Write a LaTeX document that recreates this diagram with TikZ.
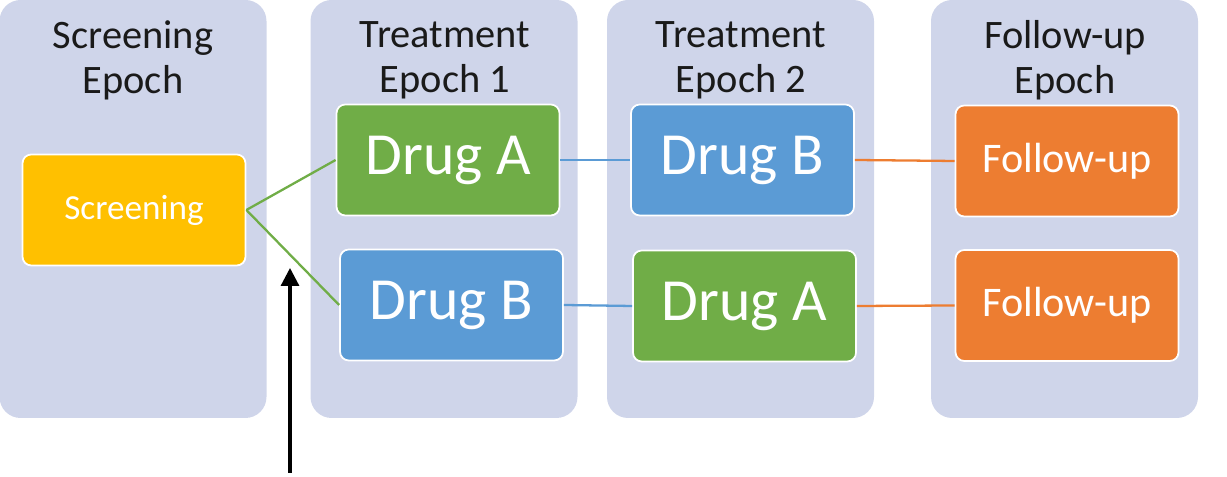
\documentclass[tikz,border=0pt]{standalone}
\usepackage{fontspec}
\setmainfont{Carlito}
\usetikzlibrary{arrows.meta}

\definecolor{epochbg}{HTML}{CFD5EA}
\definecolor{scrfill}{HTML}{FFC000}
\definecolor{drugAfill}{HTML}{70AD47}
\definecolor{drugBfill}{HTML}{5B9BD5}
\definecolor{fupfill}{HTML}{ED7D31}
\definecolor{ttltext}{HTML}{1A1A1A}

\begin{document}
\begin{tikzpicture}[
  epoch/.style={fill=epochbg, rounded corners=12pt, minimum width=5.34cm,
                minimum height=8.36cm, inner sep=0pt},
  ttl/.style={font=\fontsize{23}{25.6}\selectfont, align=center, text=ttltext},
  arm/.style={draw=white, line width=1pt, rounded corners=5pt, minimum width=4.46cm,
              minimum height=2.22cm, text=white, fill=#1},
  link/.style={line width=1.3pt, draw=#1},
  arr/.style={-{Triangle[length=0.36cm, width=0.36cm]}, line width=1.8pt},
]
\useasboundingbox (0,0) rectangle (24.54,9.54);

%% Epoch panels
\node[epoch] (epScr) at (2.66,5.36)  {};
\node[epoch] (epT1)  at (8.88,5.36)  {};
\node[epoch] (epT2)  at (14.81,5.36) {};
\node[epoch] (epFup) at (21.29,5.36) {};

%% Epoch titles
\node[ttl] (tScr) at (2.66,8.34)  {Screening\\Epoch};
\node[ttl] (tT1)  at (8.90,8.34)  {Treatment\\Epoch 1};
\node[ttl] (tT2)  at (14.82,8.34) {Treatment\\Epoch 2};
\node[ttl] (tFup) at (21.30,8.34) {Follow-up\\Epoch};

%% Arms
\node[arm=scrfill, font=\fontsize{20}{24}\selectfont]   (scr)  at (2.68,5.34)  {Screening};
\node[arm=drugAfill, font=\fontsize{34}{38}\selectfont] (a1)   at (8.96,6.34)  {Drug A};
\node[arm=drugBfill, font=\fontsize{34}{38}\selectfont] (b1)   at (9.03,3.44)  {Drug B};
\node[arm=drugBfill, font=\fontsize{34}{38}\selectfont] (b2)   at (14.85,6.34) {Drug B};
\node[arm=drugAfill, font=\fontsize{34}{38}\selectfont] (a2)   at (14.89,3.42) {Drug A};
\node[arm=fupfill, font=\fontsize{24}{28}\selectfont]   (fup1) at (21.34,6.32) {Follow-up};
\node[arm=fupfill, font=\fontsize{24}{28}\selectfont]   (fup2) at (21.34,3.43) {Follow-up};

%% Links
\draw[link=drugAfill] (scr.east) -- (a1.west);
\draw[link=drugAfill] (scr.east) -- (b1.west);
\draw[link=drugBfill] (a1.east) -- (b2.west);
\draw[link=drugBfill] (b1.east) -- (a2.west);
\draw[link=fupfill]   (b2.east) -- (fup1.west);
\draw[link=fupfill]   (a2.east) -- (fup2.west);

%% Randomisation arrow
\coordinate (rndFoot) at (5.80,0.08);
\coordinate (rndTip)  at (5.80,4.18);
\draw[arr] (rndFoot) -- (rndTip);

\end{tikzpicture}
\end{document}
